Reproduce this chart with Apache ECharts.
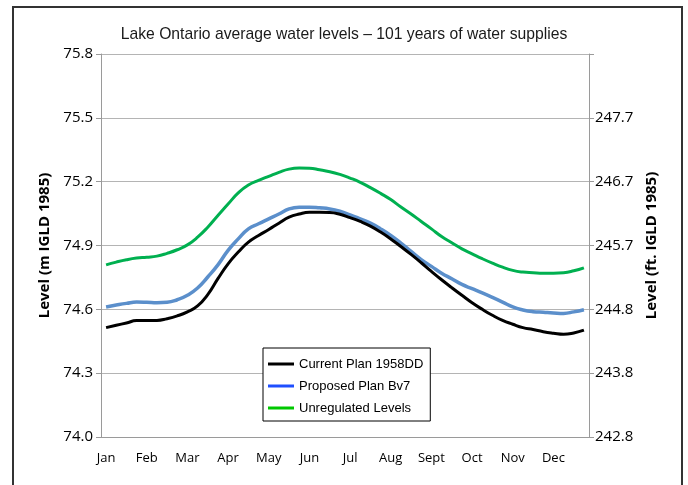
<!DOCTYPE html>
<html>
<head>
<meta charset="utf-8">
<script src="https://cdn.jsdelivr.net/npm/echarts@6/dist/echarts.min.js"></script>
<style>html,body{margin:0;padding:0;background:#fff}#c{width:688px;height:485px}</style>
</head>
<body>
<div id="c"></div>
<script>
var title = 'Lake Ontario average water levels \u2013 101 years of water supplies';
var months = ['Jan','Feb','Mar','Apr','May','Jun','Jul','Aug','Sept','Oct','Nov','Dec'];
var periodsPerMonth = 4;
var seriesNames = ['Current Plan 1958DD','Proposed Plan Bv7','Unregulated Levels'];
var leftTicks = [74.0, 74.3, 74.6, 74.9, 75.2, 75.5, 75.8];
var rightTickLabels = ['242.8','243.8','244.8','245.7','246.7','247.7',''];

var currentPlan = [74.514,74.525,74.536,74.547,74.548,74.548,74.556,74.569,74.588,74.616,74.669,74.744,
  74.814,74.869,74.916,74.947,74.975,75.005,75.033,75.048,75.056,75.056,75.055,75.047,
  75.031,75.013,74.991,74.963,74.931,74.895,74.858,74.819,74.778,74.739,74.702,74.666,
  74.631,74.600,74.572,74.548,74.530,74.514,74.505,74.495,74.488,74.483,74.489,74.502];
var proposedPlan = [74.611,74.620,74.628,74.634,74.633,74.631,74.633,74.645,74.666,74.700,74.752,74.809,
  74.877,74.931,74.978,75.002,75.025,75.048,75.072,75.080,75.080,75.077,75.072,75.061,
  75.044,75.025,75.005,74.978,74.947,74.911,74.872,74.834,74.802,74.770,74.744,74.717,
  74.697,74.677,74.656,74.634,74.611,74.597,74.589,74.586,74.583,74.581,74.588,74.598];
var unregulated = [74.809,74.822,74.833,74.841,74.845,74.850,74.863,74.880,74.903,74.939,74.986,75.041,
  75.095,75.147,75.184,75.206,75.225,75.244,75.259,75.264,75.263,75.256,75.247,75.234,
  75.217,75.197,75.172,75.145,75.116,75.081,75.048,75.013,74.978,74.942,74.913,74.884,
  74.861,74.838,74.817,74.798,74.783,74.775,74.772,74.770,74.770,74.772,74.781,74.795];

var categories = [];
months.forEach(function(m){ for (var k=0;k<periodsPerMonth;k++) categories.push(k===0 ? m : m + ' ' + (k+1)); });

var lineColors = ['#000000','#5b8fcb','#00b050'];
var legendColors = ['#000000','#1f4fff','#00c800'];
var tickFont = "'Open Sans', 'Noto Sans', sans-serif";
var narrowFont = "'Liberation Sans', Arial, sans-serif";

var chart = echarts.init(document.getElementById('c'), null, {renderer:'canvas'});
var option = {
  animation: false,
  backgroundColor: '#fff',
  title: {
    text: title, left: 'center', top: 22,
    textStyle: {fontFamily: narrowFont, fontSize: 15.7, fontWeight: 'normal', color: '#1a1a1a'}
  },
  grid: {left: 101, right: 99, top: 54, bottom: 48},
  legend: {
    orient: 'vertical', left: 263, top: 348,
    backgroundColor: '#fff', borderColor: '#000', borderWidth: 1,
    padding: [9, 7, 6, 5], itemGap: 8,
    icon: 'rect', itemWidth: 26, itemHeight: 3,
    textStyle: {fontFamily: narrowFont, fontSize: 13, color: '#000', lineHeight: 14},
    data: seriesNames.map(function(n, i){ return {name: n, itemStyle: {color: legendColors[i]}}; })
  },
  xAxis: {
    type: 'category', data: categories, boundaryGap: true,
    axisLine: {lineStyle: {color: '#9a9a9a', width: 1}},
    axisTick: {interval: 0, length: 5, lineStyle: {color: '#9a9a9a'}},
    axisLabel: {
      interval: periodsPerMonth - 1, margin: 15,
      fontFamily: tickFont, fontSize: 13, color: '#000',
      formatter: function(v){ return v.split(' ')[0]; }
    },
    splitLine: {show: false}
  },
  yAxis: [{
    type: 'value', min: leftTicks[0], max: leftTicks[leftTicks.length-1], interval: 0.3,
    name: 'Level (m IGLD 1985)', nameLocation: 'middle', nameGap: 45, nameRotate: 90,
    nameTextStyle: {fontFamily: tickFont, fontWeight: 'bold', fontSize: 15, color: '#000'},
    axisLine: {show: true, lineStyle: {color: '#9a9a9a'}},
    axisTick: {show: true, length: 5, lineStyle: {color: '#9a9a9a'}},
    axisLabel: {margin: 8, fontFamily: tickFont, fontSize: 15, color: '#000',
      formatter: function(v){ return v.toFixed(1); }},
    splitLine: {show: true, lineStyle: {color: '#b4b4b4', width: 1}}
  }, {
    type: 'value', position: 'right', min: leftTicks[0], max: leftTicks[leftTicks.length-1], interval: 0.3,
    name: 'Level (ft. IGLD 1985)', nameLocation: 'middle', nameGap: 46, nameRotate: 90,
    nameTextStyle: {fontFamily: tickFont, fontWeight: 'bold', fontSize: 15, color: '#000'},
    axisLine: {show: true, lineStyle: {color: '#9a9a9a'}},
    axisTick: {show: true, length: 5, lineStyle: {color: '#9a9a9a'}},
    axisLabel: {margin: 6, fontFamily: tickFont, fontSize: 15, color: '#000',
      formatter: function(v){
        var idx = leftTicks.findIndex(function(t){ return Math.abs(t - v) < 1e-6; });
        return idx >= 0 ? rightTickLabels[idx] : '';
      }},
    splitLine: {show: false}
  }],
  series: [
    {name: seriesNames[0], type: 'line', data: currentPlan, smooth: true, symbol: 'none',
     lineStyle: {color: lineColors[0], width: 3}, itemStyle: {color: lineColors[0]}, z: 3},
    {name: seriesNames[1], type: 'line', data: proposedPlan, smooth: true, symbol: 'none',
     lineStyle: {color: lineColors[1], width: 3.5}, itemStyle: {color: lineColors[1]}, z: 2},
    {name: seriesNames[2], type: 'line', data: unregulated, smooth: true, symbol: 'none',
     lineStyle: {color: lineColors[2], width: 3}, itemStyle: {color: lineColors[2]}, z: 2}
  ],
  graphic: [{
    type: 'polyline', silent: true,
    shape: {points: [[13, 485], [13, 7], [682, 7], [682, 485]]},
    style: {stroke: '#333', lineWidth: 2, fill: null}
  }]
};
chart.setOption(option);
</script>
</body>
</html>
